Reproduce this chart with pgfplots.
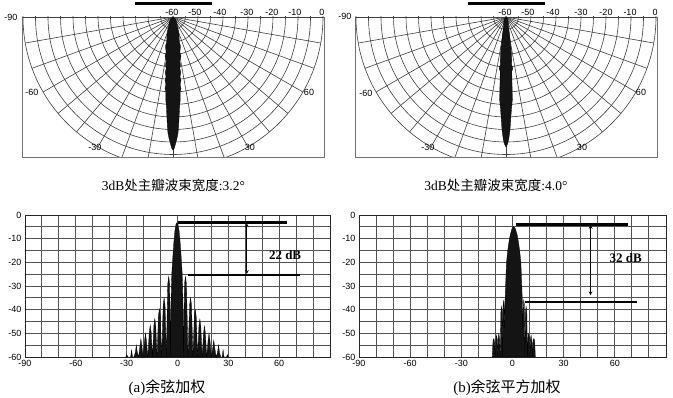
\documentclass[border=0pt]{standalone}
\usepackage{fontspec}
\usepackage{pgfplots}
\pgfplotsset{compat=1.18}
\setmainfont{Liberation Serif}
\newfontfamily\cjk{Noto Sans CJK SC}
\newfontfamily\lsans{Liberation Sans}
\pgfplotsset{
 polarframe/.style={scale only axis, anchor=south west, width=302pt, height=140pt,
   xmin=-60.4, xmax=60.4, ymin=-56, ymax=0, ticks=none,
   axis line style={black!55, line width=0.6pt}},
 botax/.style={scale only axis, anchor=south west, height=142pt,
   xmin=-90, xmax=90, ymin=-60, ymax=0,
   xtick={-90,-80,...,90}, xticklabels={-90,,,-60,,,-30,,,0,,,30,,,60,,,},
   ytick={-60,-55,...,0}, yticklabels={-60,,-50,,-40,,-30,,-20,,-10,,0},
   grid=major, major grid style={black!68, line width=0.9pt},
   major tick length=0pt,
   tick label style={font=\lsans\fontsize{9}{10}\selectfont},
   axis line style={black!85, line width=0.8pt}},
}
\newcommand\polargrid{%
  \pgfplotsinvokeforeach{5,10,...,60}{\draw[black!75, line width=0.6pt] (axis cs:0,0) circle[radius={##1*2.5pt}];}
  \pgfplotsinvokeforeach{180,190,...,360}{\draw[black!75, line width=0.6pt] (axis cs:0,0) -- (axis cs:{60*cos(##1)},{60*sin(##1)});}
}
\begin{document}
\begin{tikzpicture}[x=1pt,y=1pt]
\path[use as bounding box, fill=white] (0pt,0pt) rectangle (673pt,397pt);

% ---------- top-left polar ----------
\begin{axis}[polarframe, at={(22pt,240pt)}]
\polargrid
\addplot[fill=black!92, draw=black, line width=0.3pt, data cs=polar] coordinates {
(0,0) (-45,1.6) (-60,3.2) (-68,5.6) (-72,8) (-76,10.4) (-75.5,12) (-79,14.4) (-78.5,16)
(-81.5,17.6) (-81,19.2) (-82.5,20.8) (-82,22.4) (-83.3,24) (-82.9,25.6) (-84,27.2)
(-83.6,28.8) (-84.5,30) (-85,33.2) (-85.8,36) (-86.5,40) (-87.1,44) (-87.5,46.4)
(-88.2,48.8) (-88.9,50.8) (-89.4,52.4) (-90,53.2)
(-90.6,52.4) (-91.1,50.8) (-91.8,48.8) (-92.5,46.4) (-92.9,44) (-93.5,40) (-94.2,36)
(-95,33.2) (-95.5,30) (-96.4,28.8) (-96,27.2) (-97.1,25.6) (-96.7,24) (-98,22.4)
(-97.5,20.8) (-99,19.2) (-98.5,17.6) (-101.5,16) (-101,14.4) (-104.5,12) (-104,10.4)
(-108,8) (-112,5.6) (-120,3.2) (-135,1.6) (0,0)
} -- cycle;
\end{axis}

% ---------- top-right polar ----------
\begin{axis}[polarframe, at={(355pt,240pt)}]
\polargrid
\addplot[fill=black!92, draw=black, line width=0.3pt, data cs=polar] coordinates {
(0,0) (-50,0.8) (-65,2) (-75,4) (-78.2,6.4) (-81,13.2) (-82,16) (-83.2,19.2)
(-82.5,20.8) (-84,22) (-85,28) (-85.6,33.2) (-86.4,36) (-87.2,40) (-87.8,44)
(-88.2,46.4) (-88.7,48.8) (-89.3,50.8) (-90,52)
(-90.7,50.8) (-91.3,48.8) (-91.8,46.4) (-92.2,44) (-92.8,40) (-93.6,36) (-94.4,33.2)
(-95,28) (-96,22) (-97.5,20.8) (-96.8,19.2) (-98,16) (-99,13.2) (-101.8,6.4)
(-105,4) (-115,2) (-130,0.8) (0,0)
} -- cycle;
\end{axis}

% polar labels
\begin{scope}[every node/.style={font=\lsans\fontsize{9}{10}\selectfont, inner sep=0pt}]
\foreach \x/\t in {172/-60,195/-50,220/-40,247/-30,272/-20,295/-10,322/0}
  \node at (\x pt,385pt) {\t};
\node at (11pt,380pt) {-90};
\node at (32pt,305pt) {-60};
\node at (95pt,250pt) {-30};
\node at (309pt,305pt) {60};
\node at (250pt,250pt) {30};
\foreach \x/\t in {505/-60,528/-50,553/-40,581/-30,606/-20,630/-10,655/0}
  \node at (\x pt,385pt) {\t};
\node at (345pt,381pt) {-90};
\node at (366pt,304pt) {-60};
\node at (428pt,250pt) {-30};
\node at (641pt,305pt) {60};
\node at (582pt,250pt) {30};
\end{scope}
\draw[line width=3pt] (135pt,393pt) -- (212pt,393pt);
\draw[line width=3pt] (468pt,393pt) -- (545pt,393pt);

% subtitles
\node[font=\fontsize{13.5}{15}\selectfont] at (173.5pt,212pt) {3dB{\cjk 处主瓣波束宽度}:3.2°};
\node[font=\fontsize{13.5}{15}\selectfont] at (496pt,212pt) {3dB{\cjk 处主瓣波束宽度}:4.0°};

% ---------- bottom-left ----------
\begin{axis}[botax, at={(25pt,40pt)}, width=305pt]
\addplot[fill=black!92, draw=black, line width=0.3pt] coordinates {
(-31.0,-60) (-30.45,-60) (-29.9,-59) (-29.35,-60) (-28.5,-60)
(-27.65,-60) (-27.1,-57) (-26.55,-60) (-25.7,-60)
(-24.85,-58) (-24.3,-55) (-23.75,-58) (-22.95,-60)
(-22.15,-55.3) (-21.6,-52.3) (-21.05,-55.3) (-20.25,-60)
(-19.45,-53.1) (-18.9,-50.1) (-18.35,-53.1) (-17.5,-60)
(-16.65,-49.6) (-16.1,-46.6) (-15.55,-49.6) (-14.75,-60)
(-13.95,-46.8) (-13.4,-43.8) (-12.85,-46.8) (-12.05,-60)
(-11.25,-42.6) (-10.7,-39.6) (-10.15,-42.6) (-9.3,-60)
(-8.45,-38) (-7.9,-35) (-7.35,-38) (-6.6,-60)
(-5.75,-29) (-5.2,-26) (-4.65,-29) (-4.1,-60)
(-3.9,-40) (-3.6,-30) (-3.3,-24) (-2.7,-17) (-2.1,-11) (-1.5,-6.5) (-0.9,-4)
(-0.3,-3.2) (0.3,-4) (0.9,-6.5) (1.5,-11) (2.1,-17) (2.7,-24) (3.0,-30) (3.3,-40) (3.5,-60)
(4.15,-29) (4.7,-26) (5.25,-29) (6.2,-60)
(7.15,-38) (7.7,-35) (8.25,-38) (9.1,-60)
(9.95,-43) (10.5,-40) (11.05,-43) (11.85,-60)
(12.65,-47) (13.2,-44) (13.75,-47) (14.55,-60)
(15.35,-50) (15.9,-47) (16.45,-50) (17.25,-60)
(18.05,-53) (18.6,-50) (19.15,-53) (20.0,-60)
(20.85,-56) (21.4,-53) (21.95,-56) (22.8,-60)
(23.65,-58) (24.2,-55) (24.75,-58) (25.55,-60)
(26.35,-60) (26.9,-57) (27.45,-60) (28.2,-60)
(28.95,-60) (29.5,-59) (30.05,-60) (30.8,-60)
} -- cycle;
\draw[line width=2.2pt] (axis cs:0,-3.2) -- (axis cs:64.5,-3.2);
\draw[line width=2.2pt] (axis cs:6.4,-25.4) -- (axis cs:72.3,-25.4);
\draw[<->, >=stealth, line width=0.7pt] (axis cs:40.9,-3.5) -- (axis cs:40.9,-24.9);
\node[font=\bfseries\fontsize{13}{15}\selectfont] at (axis cs:63.5,-17) {22 dB};
\end{axis}

% ---------- bottom-right ----------
\begin{axis}[botax, at={(359pt,40pt)}, width=307pt]
\addplot[fill=black!92, draw=black, line width=0.3pt] coordinates {
(-11.9,-60) (-11.4,-53) (-10.9,-52.2) (-10.5,-54) (-10.1,-60)
(-9.8,-53) (-9.35,-50.8) (-9.0,-52.5) (-8.7,-60)
(-8.4,-52) (-8.0,-50.1) (-7.6,-52) (-7.2,-60)
(-6.8,-41) (-6.4,-38.6) (-6.0,-41) (-5.75,-60)
(-5.5,-38) (-5.1,-36) (-4.8,-40) (-4.6,-48)
(-4.4,-37) (-4.0,-29) (-3.5,-20) (-2.8,-15) (-2.0,-11) (-1.3,-8.3) (-0.3,-5.8)
(0.7,-4.8) (1.7,-5.8) (2.7,-8.3) (3.4,-11) (4.2,-15) (4.9,-20) (5.4,-29) (5.8,-37) (6.0,-48)
(6.2,-40) (6.6,-36) (7.0,-38) (7.3,-60)
(7.6,-41) (8.0,-38.6) (8.4,-41) (8.75,-60)
(9.1,-52) (9.5,-50.1) (9.9,-52) (10.2,-60)
(10.5,-52.5) (10.9,-50.8) (11.3,-53) (11.7,-60)
(12.0,-53) (12.5,-52.2) (13.0,-53) (13.4,-60)
} -- cycle;
\draw[line width=2.2pt] (axis cs:1.9,-4) -- (axis cs:67.7,-4);
\draw[line width=2.2pt] (axis cs:7.1,-36.7) -- (axis cs:73,-36.7);
\draw[<->, >=stealth, line width=0.7pt] (axis cs:45.8,-4.2) -- (axis cs:45.8,-33.9);
\node[font=\bfseries\fontsize{13}{15}\selectfont] at (axis cs:66.4,-18.3) {32 dB};
\end{axis}

% captions
\node[font=\fontsize{15}{17}\selectfont] at (167pt,9.5pt) {(a){\cjk 余弦加权}};
\node[font=\fontsize{15}{17}\selectfont] at (507pt,9.5pt) {(b){\cjk 余弦平方加权}};
\end{tikzpicture}
\end{document}
